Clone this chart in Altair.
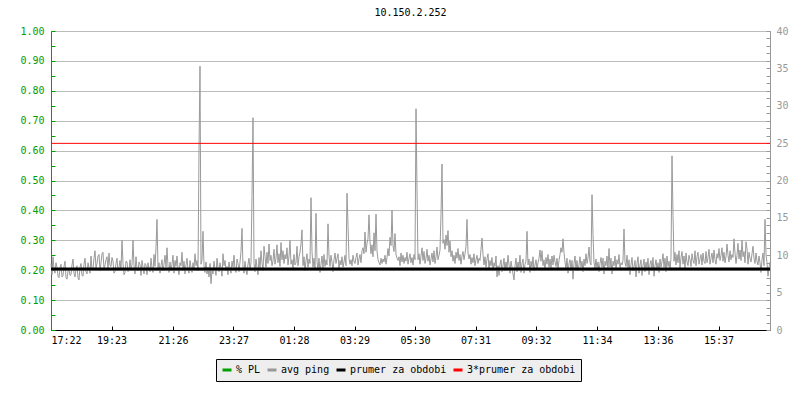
import altair as alt
import pandas as pd

chart_title = "10.150.2.252"

# x axis: minutes from 17:22 and their labels
x_tick_minutes = [0, 121, 244, 365, 486, 607, 728, 849, 970, 1092, 1214, 1335]
x_tick_labels = ["17:22", "19:23", "21:26", "23:27", "01:28", "03:29",
                 "05:30", "07:31", "09:32", "11:34", "13:36", "15:37"]
x_domain_max = 1438
sample_step_min = 2

# avg ping [ms], one sample every 2 minutes
ping_ms = [
    8.9, 7.4, 9.8, 8.1, 7.6, 9.0, 8.4, 7.2, 7.0, 8.3, 8.8, 7.1, 7.3, 8.5, 9.2, 7.0, 6.8, 7.9, 8.1, 7.3,
    7.4, 8.7, 9.5, 7.6, 7.1, 8.2, 8.6, 7.0, 6.7, 8.4, 8.9, 7.3, 7.2, 8.8, 9.6, 7.8, 7.5, 9.0, 8.3, 7.6,
    9.9, 8.0, 8.2, 9.6, 10.6, 8.3, 8.9, 9.9, 10.1, 7.9, 9.0, 10.2, 10.4, 8.1, 8.7, 9.4, 9.8, 8.2, 10.3, 8.6,
    8.5, 9.7, 9.2, 7.6, 7.8, 8.9, 9.6, 7.9, 8.4, 9.3, 8.0, 12.0, 8.9, 7.4, 7.7, 9.2, 9.1, 7.8, 8.0, 9.4,
    8.1, 8.7, 12.0, 8.6, 7.5, 9.8, 8.2, 7.9, 9.1, 8.8, 7.3, 9.3, 8.4, 7.5, 8.9, 8.7, 7.4, 9.0, 8.2, 7.8,
    9.6, 8.3, 7.7, 10.1, 8.5, 11.0, 14.8, 8.2, 9.0, 7.6, 8.6, 9.4, 7.9, 8.8, 10.0, 8.4, 11.0, 8.5, 7.7, 9.1,
    7.9, 8.8, 10.0, 7.6, 9.3, 8.5, 9.9, 8.2, 7.4, 9.0, 8.6, 10.4, 8.0, 9.2, 7.5, 8.7, 9.6, 8.1, 7.6, 9.3,
    8.4, 7.7, 9.0, 8.3, 10.2, 8.6, 9.3, 7.9, 24.0, 35.3, 8.8, 9.4, 13.2, 8.6, 7.7, 9.1, 7.5, 8.4, 7.1, 8.9,
    6.2, 8.0, 7.5, 9.2, 8.1, 7.3, 9.6, 8.4, 7.8, 9.0, 8.3, 7.2, 10.2, 8.6, 9.3, 7.9, 8.5, 7.4, 9.1, 8.2,
    7.6, 9.2, 8.4, 10.0, 8.1, 7.7, 9.5, 8.9, 7.8, 9.1, 10.5, 13.6, 8.4, 7.6, 9.2, 8.0, 7.4, 8.8, 9.6, 8.1,
    9.0, 18.0, 28.4, 8.9, 7.8, 9.5, 8.3, 7.4, 9.7, 8.2, 10.6, 9.0, 7.9, 11.2, 9.8, 8.4, 10.4, 8.9, 11.5, 9.3,
    10.0, 8.6, 9.3, 10.8, 8.8, 9.6, 11.4, 9.0, 10.2, 8.5, 11.7, 9.4, 10.6, 8.9, 10.1, 9.5, 11.0, 8.7, 9.9, 12.0,
    8.8, 9.4, 8.2, 10.1, 8.7, 9.0, 11.2, 8.6, 9.8, 10.4, 11.5, 13.4, 8.6, 9.8, 7.9, 9.3, 10.2, 8.4, 9.5, 8.9,
    17.7, 10.5, 8.4, 9.6, 8.2, 15.6, 9.2, 8.0, 9.6, 7.7, 8.8, 9.9, 8.3, 10.1, 8.5, 9.4, 8.7, 14.2, 9.9, 8.5,
    10.0, 9.1, 7.8, 9.4, 10.3, 8.9, 9.6, 10.2, 8.1, 9.3, 8.7, 9.8, 8.4, 9.1, 10.0, 8.6, 18.3, 14.0, 9.6, 8.8,
    9.4, 8.6, 10.0, 9.2, 8.9, 9.7, 10.3, 8.7, 9.5, 10.1, 9.0, 10.6, 11.0, 10.2, 13.1, 10.4, 11.6, 12.2, 15.4, 11.8,
    10.2, 11.4, 9.8, 13.0, 10.6, 15.5, 10.6, 9.4, 9.0, 8.7, 9.6, 8.9, 9.5, 9.1, 10.0, 8.8, 9.7, 10.9, 9.9, 12.4,
    11.3, 16.0, 11.3, 10.5, 12.9, 10.1, 9.6, 9.3, 9.8, 8.6, 10.3, 9.1, 10.0, 8.9, 9.7, 9.2, 10.4, 8.8, 9.6, 10.2,
    9.0, 9.7, 8.7, 10.1, 9.4, 29.6, 18.6, 9.4, 10.2, 8.8, 9.9, 11.0, 9.3, 10.5, 8.9, 9.6, 10.8, 9.2, 10.0, 8.7,
    9.5, 10.3, 9.1, 10.6, 8.9, 9.8, 11.1, 9.4, 10.0, 10.7, 15.5, 22.2, 11.6, 12.1, 10.8, 12.7, 11.3, 13.3, 10.4, 11.9,
    9.8, 10.6, 9.2, 10.0, 8.9, 10.4, 9.6, 10.9, 9.3, 10.1, 8.8, 9.9, 10.5, 9.4, 10.2, 11.2, 14.8, 10.3, 9.5, 10.1,
    8.8, 9.7, 9.0, 10.2, 8.6, 9.4, 10.0, 8.9, 9.6, 9.3, 10.8, 12.3, 10.1, 8.7, 9.8, 8.4, 9.5, 10.2, 8.1, 9.3,
    8.6, 9.7, 7.9, 9.0, 8.5, 9.9, 7.1, 8.6, 7.3, 8.8, 9.4, 7.8, 8.6, 9.6, 7.9, 9.1, 8.3, 10.0, 8.7, 7.6,
    9.2, 8.4, 7.5, 6.7, 8.6, 9.6, 7.8, 9.1, 8.3, 10.0, 7.7, 8.9, 9.5, 7.6, 8.8, 9.2, 13.2, 8.7, 9.5, 7.7,
    9.2, 8.4, 9.8, 7.9, 8.7, 9.4, 8.2, 9.0, 9.6, 10.7, 9.2, 10.6, 8.6, 9.4, 8.0, 9.7, 8.8, 10.1, 8.4, 9.5,
    8.3, 9.9, 8.7, 10.0, 9.1, 8.5, 9.6, 8.2, 9.3, 10.1, 11.0, 10.4, 12.2, 10.4, 9.1, 8.2, 9.6, 7.6, 8.9, 9.4,
    8.0, 9.3, 6.8, 8.9, 9.9, 8.1, 9.3, 7.9, 8.7, 9.8, 8.4, 9.2, 7.8, 9.5, 8.6, 10.2, 8.9, 9.6, 11.1, 9.0,
    8.7, 18.1, 12.8, 9.0, 8.3, 9.5, 8.2, 9.1, 7.8, 8.9, 9.7, 8.4, 9.6, 7.5, 9.2, 8.6, 9.9, 8.0, 10.9, 8.4,
    9.6, 7.5, 9.2, 8.6, 9.9, 8.1, 9.4, 8.8, 10.1, 8.3, 9.0, 8.7, 9.3, 13.5, 9.0, 8.5, 10.0, 8.1, 9.4, 7.4,
    8.8, 9.7, 7.9, 8.5, 9.3, 7.1, 8.9, 9.8, 7.6, 8.7, 9.4, 7.3, 8.6, 9.5, 7.8, 9.1, 8.2, 9.6, 7.4, 8.8,
    9.3, 8.0, 9.7, 7.2, 8.6, 9.4, 8.1, 9.0, 7.7, 9.5, 8.4, 9.1, 10.2, 8.4, 9.6, 7.8, 9.9, 8.5, 9.2, 8.0,
    9.7, 23.3, 15.3, 9.2, 10.4, 8.7, 10.1, 9.0, 10.6, 8.3, 9.7, 10.5, 8.8, 9.9, 8.2, 10.3, 9.1, 8.6, 10.0, 9.4,
    8.5, 10.2, 9.3, 8.9, 10.6, 8.6, 9.8, 10.4, 8.8, 9.5, 10.1, 8.7, 10.3, 9.2, 8.9, 10.5, 9.0, 9.7, 10.8, 8.8,
    9.6, 10.3, 9.0, 10.7, 9.4, 8.8, 10.2, 9.6, 10.9, 9.3, 10.0, 11.0, 9.2, 10.4, 9.0, 9.8, 11.5, 10.0, 9.1, 10.6,
    9.4, 10.1, 9.7, 12.2, 10.3, 8.9, 10.0, 11.6, 9.5, 10.7, 9.3, 12.0, 9.8, 10.5, 9.0, 11.8, 10.9, 8.8, 10.4, 9.6,
    9.1, 10.2, 11.2, 9.6, 8.9, 10.3, 9.2, 8.7, 9.9, 9.0, 7.7, 9.4, 10.3, 8.6, 14.8, 10.1, 9.0, 7.2, 8.4, 9.1,
]
# packet loss (no loss in the period)
pl_times = [0, 1438]
pl_values = [0.0, 0.0]

avg_ms = 8.17
avg3_ms = 24.97

series_names = ["% PL", "avg ping", "prumer za obdobi", "3*prumer za obdobi"]
series_colors = ["#00a000", "#999999", "#000000", "#ff0000"]

left_major = [round(v * 0.1, 2) for v in range(11)]
left_minor = [round(v * 0.05, 2) for v in range(21)]
right_major = list(range(0, 41, 5))
right_minor = list(range(0, 41))

FONT = "DejaVu Sans Mono"
GREEN = "#00a000"
GREY = "#999999"

ping_df = pd.DataFrame({
    "t": [i * sample_step_min for i in range(len(ping_ms))],
    "ms": ping_ms,
    "series": series_names[1],
})
pl_df = pd.DataFrame({"t": pl_times, "pl": pl_values, "series": series_names[0]})
avg_df = pd.DataFrame({"ms": [avg_ms], "series": [series_names[2]]})
avg3_df = pd.DataFrame({"ms": [avg3_ms], "series": [series_names[3]]})

xscale = alt.Scale(domain=[0, x_domain_max], nice=False, zero=False)
lscale = alt.Scale(domain=[0, 1], nice=False)
rscale = alt.Scale(domain=[0, 40], nice=False)
cscale = alt.Scale(domain=series_names, range=series_colors)

label_expr = "{}[indexof({}, datum.value)]".format(
    "[" + ",".join("'%s'" % s for s in x_tick_labels) + "]",
    "[" + ",".join(str(v) for v in x_tick_minutes) + "]",
)

legend = alt.Legend(
    orient="none", legendX=165, legendY=328, direction="horizontal", title=None,
    fillColor="#eeeeee", strokeColor="#000000", padding=5,
    symbolType="stroke", symbolStrokeWidth=3, symbolSize=81,
    labelFont=FONT, labelFontSize=10, labelColor="#000000",
    columnPadding=0, labelOffset=3, columns=4,
)

# left axis (labels, domain, grid)
left_axis = alt.Chart(pl_df).mark_line(opacity=0).encode(
    x=alt.X("t:Q", scale=xscale, axis=None),
    y=alt.Y("pl:Q", scale=lscale, axis=alt.Axis(
        orient="left", values=left_major, format=".2f", title=None,
        labelColor=GREEN, labelFont=FONT, labelFontSize=10, labelPadding=7,
        domainColor=GREEN, ticks=False, grid=True, gridColor="#bbbbbb")),
)
# left inward ticks
left_ticks = alt.Chart(pl_df).mark_line(opacity=0).encode(
    x=alt.X("t:Q", scale=xscale, axis=None),
    y=alt.Y("pl:Q", scale=lscale, axis=alt.Axis(
        orient="left", values=left_minor, labels=False, domain=False, grid=False,
        ticks=True, tickSize=4, tickColor=GREEN, offset=-4, title=None)),
)
# ping line with bottom axis labels and right axis labels
ping = alt.Chart(ping_df).mark_line(strokeWidth=1).encode(
    x=alt.X("t:Q", scale=xscale, axis=alt.Axis(
        orient="bottom", values=x_tick_minutes, labelExpr=label_expr, title=None,
        labelFont=FONT, labelFontSize=10, labelColor="#000000", labelPadding=5,
        domainColor="#000000", ticks=False, grid=False, labelOverlap=False)),
    y=alt.Y("ms:Q", scale=rscale, axis=alt.Axis(
        orient="right", values=right_major, title=None,
        labelColor=GREY, labelFont=FONT, labelFontSize=10, labelPadding=6,
        domainColor=GREY, ticks=False, grid=False)),
    color=alt.Color("series:N", scale=cscale, legend=legend),
)
# inward ticks for bottom and right axes
inner_ticks = alt.Chart(ping_df).mark_line(opacity=0).encode(
    x=alt.X("t:Q", scale=xscale, axis=alt.Axis(
        orient="bottom", values=x_tick_minutes, labels=False, domain=False, grid=False,
        ticks=True, tickSize=4, tickColor="#000000", offset=-4, title=None)),
    y=alt.Y("ms:Q", scale=rscale, axis=alt.Axis(
        orient="right", values=right_minor, labels=False, domain=False, grid=False,
        ticks=True, tickSize=4, tickColor=GREY, offset=-4, title=None)),
)
avg_rule = alt.Chart(avg_df).mark_rule(strokeWidth=3).encode(
    y=alt.Y("ms:Q", scale=rscale, axis=None),
    color=alt.Color("series:N", scale=cscale, legend=legend),
)
avg3_rule = alt.Chart(avg3_df).mark_rule(strokeWidth=1).encode(
    y=alt.Y("ms:Q", scale=rscale, axis=None),
    color=alt.Color("series:N", scale=cscale, legend=legend),
)

chart = alt.layer(left_axis, left_ticks, ping, inner_ticks, avg_rule, avg3_rule).resolve_scale(
    x="independent", y="independent", color="shared"
).properties(
    width=719, height=299,
    autosize=alt.AutoSizeParams(type="none"),
    padding={"left": 43, "top": 23, "right": 22, "bottom": 60},
    title=alt.TitleParams(chart_title, font=FONT, fontSize=10, fontWeight="normal",
                          color="#000000", anchor="middle", frame="group", offset=8),
).configure_view(stroke=None).configure(background="#ffffff")

chart.save("out.html", embed_options={"renderer": "svg", "actions": False})
